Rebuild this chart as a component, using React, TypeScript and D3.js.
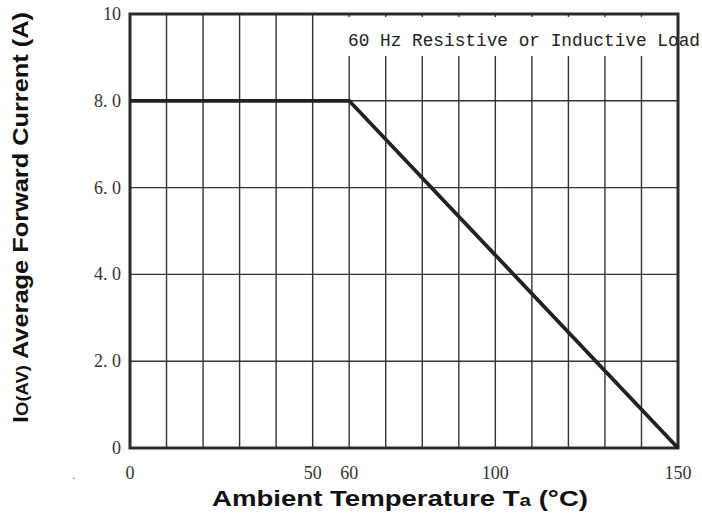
import * as d3 from "d3";
import React from "react";

const tempPoints = [0, 60, 150];
const currentPoints = [8, 8, 0];
const xGrid = d3.range(0, 151, 10);
const yGrid = [0, 2, 4, 6, 8, 10];
const xTickLabels = [0, 50, 60, 100, 150];
const yTickLabels = ["0", "2. 0", "4. 0", "6. 0", "8. 0", "10"];

const W = 702;
const H = 518;
const m = { top: 14, right: 24, bottom: 70, left: 130 };

export default function App() {
  const x = d3.scaleLinear().domain([0, 150]).range([m.left, W - m.right]);
  const y = d3.scaleLinear().domain([0, 10]).range([H - m.bottom, m.top]);
  const line = d3
    .line<number>()
    .x((d) => x(tempPoints[d]))
    .y((d) => y(currentPoints[d]));
  const serif = "'Liberation Serif', serif";
  const sans = "'Liberation Sans', Arial, sans-serif";

  return (
    <svg width={W} height={H} style={{ position: "absolute", left: 0, top: 0 }}>
      <rect width={W} height={H} fill="#fff" />
      {xGrid.map((v) => (
        <line key={"x" + v} x1={x(v)} x2={x(v)} y1={y(0)} y2={y(10)} stroke="#333" strokeWidth={1.4} />
      ))}
      {yGrid.map((v) => (
        <line key={"y" + v} x1={x(0)} x2={x(150)} y1={y(v)} y2={y(v)} stroke="#333" strokeWidth={1.4} />
      ))}
      <rect x={346} y={y(10) + 3} width={x(150) - 349} height={39} fill="#fff" />
      <text x={348} y={y(10) + 32} fontFamily="'Liberation Mono', monospace" fontSize={17.6} fill="#222" textLength={352} lengthAdjust="spacingAndGlyphs">
        60 Hz Resistive or Inductive Load
      </text>
      <rect x={x(0)} y={y(10)} width={x(150) - x(0)} height={y(0) - y(10)} fill="none" stroke="#2a2a2a" strokeWidth={3} />
      <path d={line(d3.range(tempPoints.length)) ?? ""} fill="none" stroke="#222" strokeWidth={3.8} strokeLinejoin="miter" />
      {yGrid.map((v, i) => (
        <text key={"yl" + v} x={121} y={y(v) + 6} textAnchor="end" fontFamily={serif} fontSize={18} fill="#333">
          {yTickLabels[i]}
        </text>
      ))}
      {xTickLabels.map((v) => (
        <text key={"xl" + v} x={x(v)} y={y(0) + 31} textAnchor="middle" fontFamily={serif} fontSize={18} fill="#333">
          {v}
        </text>
      ))}
      <text x={72} y={y(0) + 31} fontFamily={serif} fontSize={12} fill="#666">.</text>
      <text x={212} y={506} fontFamily={sans} fontWeight="bold" fontSize={21.5} fill="#111" textLength={376} lengthAdjust="spacingAndGlyphs">
        Ambient Temperature T<tspan fontSize={16}>a</tspan> (°C)
      </text>
      <text
        transform={`translate(28,423) rotate(-90)`}
        fontFamily={sans}
        fontWeight="bold"
        fontSize={22}
        fill="#111"
        textLength={411}
        lengthAdjust="spacingAndGlyphs"
      >
        I<tspan fontSize={16}>O(AV)</tspan> Average Forward Current (A)
      </text>
    </svg>
  );
}
